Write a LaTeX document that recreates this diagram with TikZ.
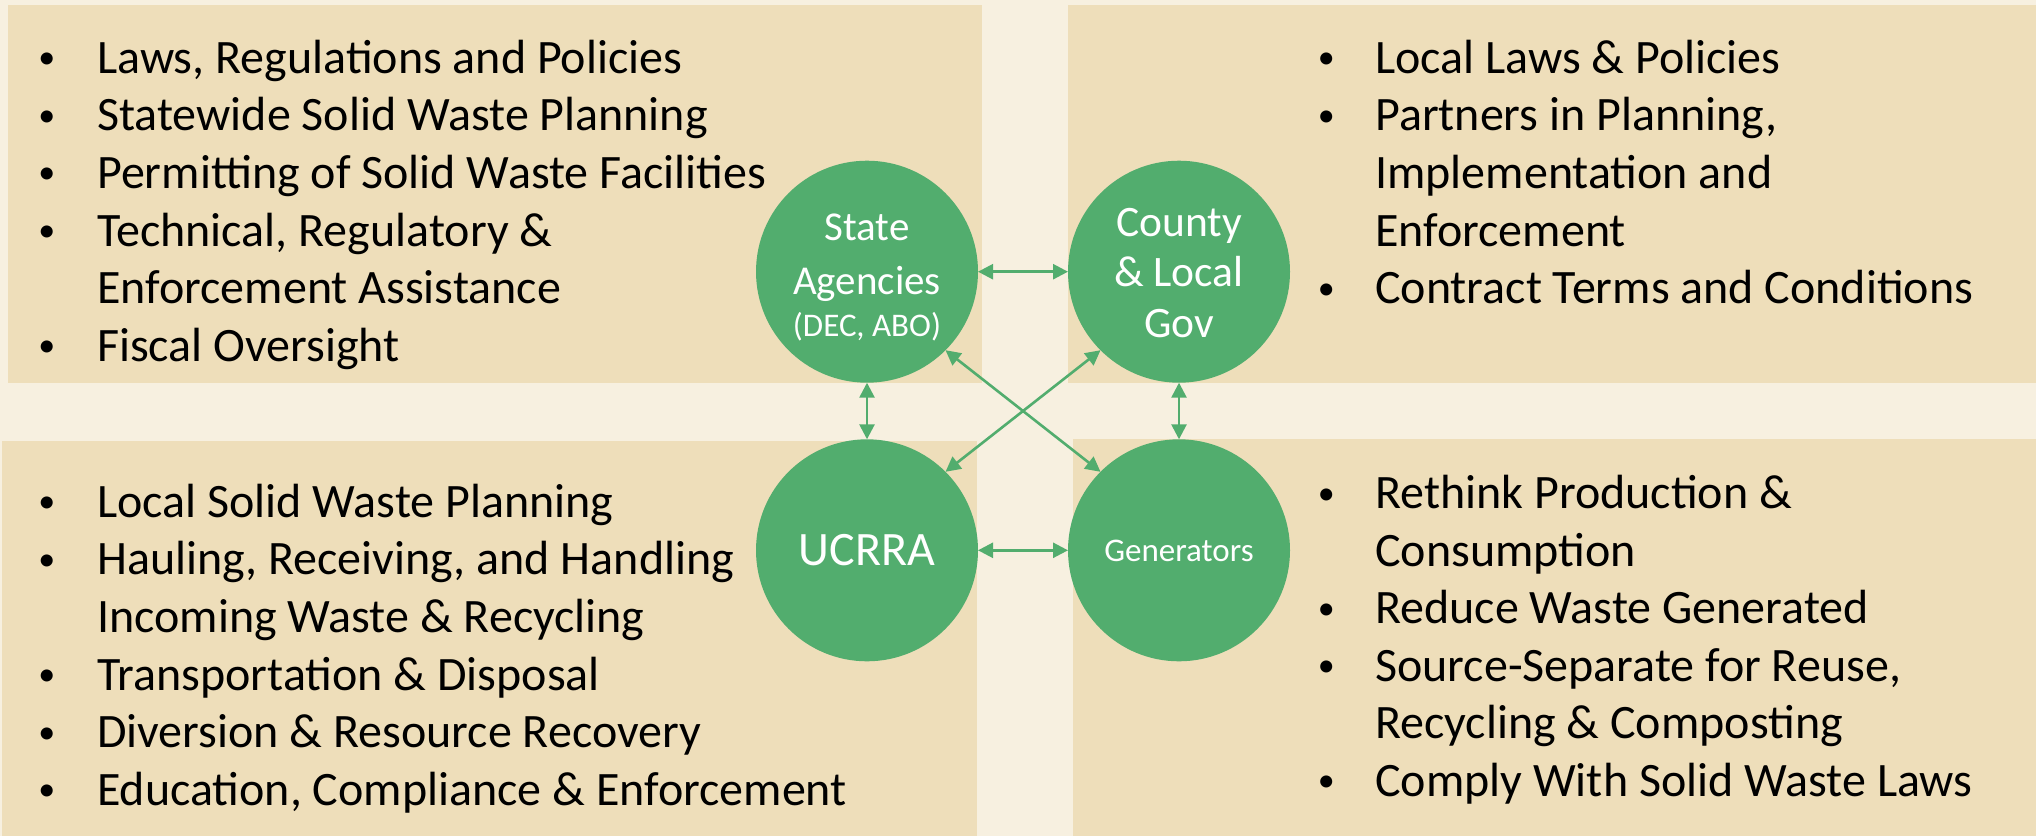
\documentclass[tikz,border=0pt]{standalone}
\usepackage{fontspec}
\setmainfont{Carlito}
\usetikzlibrary{arrows.meta}
\definecolor{bgcream}{RGB}{247,240,224}
\definecolor{boxtan}{RGB}{238,222,186}
\definecolor{circgreen}{RGB}{82,173,110}
\begin{document}
\begin{tikzpicture}[x=1pt,y=-1pt,
  panel/.style={fill=boxtan,draw=none},
  actor/.style={circle,fill=circgreen,draw=none,minimum size=222pt,inner sep=0pt,outer sep=0pt},
  ctext/.style={text=white,anchor=base,inner sep=0pt},
  item/.style={anchor=base west,inner sep=0pt,font=\fontsize{48}{56}\selectfont},
  bul/.style={anchor=base,inner sep=0pt,font=\fontsize{34}{40}\selectfont},
  link/.style={draw=circgreen,line width=2.6pt,{Triangle[length=15pt,width=15pt]}-{Triangle[length=15pt,width=15pt]}}
]
\useasboundingbox (0,0) rectangle (2036,836);
\fill[bgcream] (0,0) rectangle (2036,836);
% panels
\path[panel] (8,5) rectangle (982,383);
\path[panel] (1068,5) rectangle (2036,383);
\path[panel] (2,441) rectangle (977,836);
\path[panel] (1073,439) rectangle (2036,836);

% top-left list
\foreach \t [count=\i from 0] in {{Laws, Regulations and Policies},{Statewide Solid Waste Planning},{Permitting of Solid Waste Facilities},{Technical, Regulatory \&},{Enforcement Assistance},{Fiscal Oversight}}
  \node[item] (tl\i) at (97,{73.3+57.6*\i}) {\t};
\foreach \i in {0,1,2,3,5}
  \node[bul] (tlb\i) at (46.8,{68.7+57.6*\i}) {\textbullet};

% top-right list
\foreach \t [count=\i from 0] in {{Local Laws \& Policies},{Partners in Planning,},{Implementation and},{Enforcement},{Contract Terms and Conditions}}
  \node[item] (tr\i) at (1375,{73.3+57.6*\i}) {\t};
\foreach \i in {0,1,4}
  \node[bul] (trb\i) at (1326.4,{68.7+57.6*\i}) {\textbullet};

% bottom-left list
\foreach \t [count=\i from 0] in {{Local Solid Waste Planning},{Hauling, Receiving, and Handling},{Incoming Waste \& Recycling},{Transportation \& Disposal},{Diversion \& Resource Recovery},{Education, Compliance \& Enforcement}}
  \node[item] (bl\i) at (97,{517.2+57.6*\i}) {\t};
\foreach \i in {0,1,3,4,5}
  \node[bul] (blb\i) at (46.8,{512.6+57.6*\i}) {\textbullet};

% bottom-right list
\foreach \t [count=\i from 0] in {{Rethink Production \&},{Consumption},{Reduce Waste Generated},{Source-Separate for Reuse,},{Recycling \& Composting},{Comply With Solid Waste Laws}}
  \node[item] (br\i) at (1375,{508.7+57.5*\i}) {\t};
\foreach \i in {0,2,3,5}
  \node[bul] (brb\i) at (1326.4,{504.1+57.5*\i}) {\textbullet};

% actors
\node[actor] (state) at (867,271.7) {};
\node[actor] (county) at (1179,271.7) {};
\node[actor] (ucrra) at (867,550.3) {};
\node[actor] (gen) at (1179,550.3) {};

\node[ctext,font=\fontsize{41}{48}\selectfont] (stateA) at (867,240) {State};
\node[ctext,font=\fontsize{41}{48}\selectfont] (stateB) at (867,294.5) {Agencies};
\node[ctext,font=\fontsize{33}{38}\selectfont] (stateC) at (867,336) {(DEC, ABO)};
\node[ctext,font=\fontsize{43.5}{50}\selectfont] (countyA) at (1179,236) {County};
\node[ctext,font=\fontsize{43.5}{50}\selectfont] (countyB) at (1179,286.5) {\& Local};
\node[ctext,font=\fontsize{43.5}{50}\selectfont] (countyC) at (1179,337) {Gov};
\node[ctext,font=\fontsize{48}{54}\selectfont] (ucrraA) at (867,565) {UCRRA};
\node[ctext,font=\fontsize{33}{40}\selectfont] (genA) at (1179,561.5) {Generators};

% links
\draw[link] (state) -- (county);
\draw[link] (ucrra) -- (gen);
\draw[link] (state) -- (ucrra);
\draw[link] (county) -- (gen);
\draw[link] (state.-45) -- (gen.135);
\draw[link] (county.-135) -- (ucrra.45);
\end{tikzpicture}
\end{document}
